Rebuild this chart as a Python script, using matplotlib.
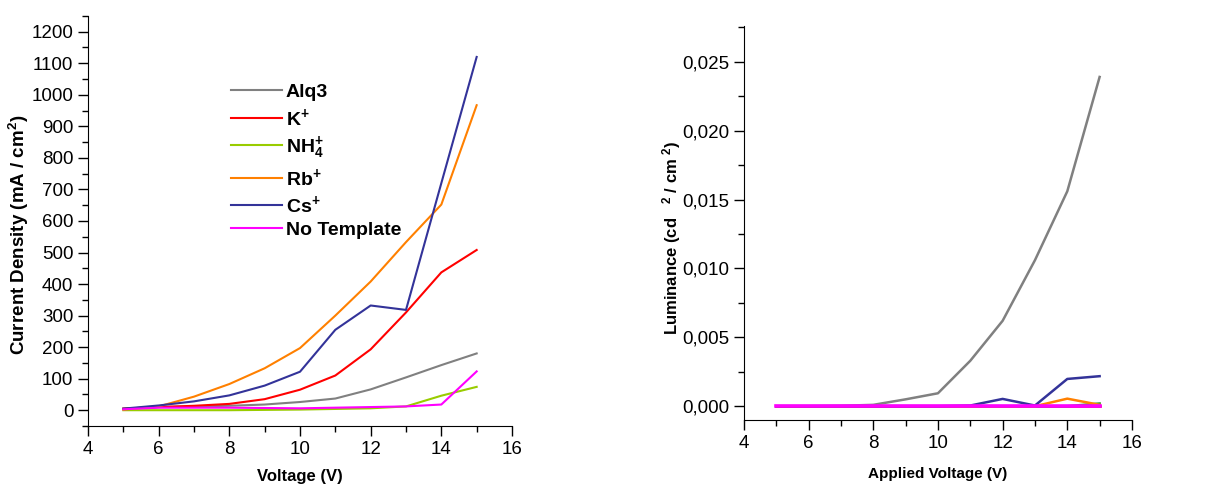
import numpy as np
import matplotlib.pyplot as plt
from matplotlib.ticker import MultipleLocator, FuncFormatter

plt.rcParams['font.family'] = ['Liberation Sans', 'DejaVu Sans']
plt.rcParams['mathtext.fontset'] = 'custom'
plt.rcParams['mathtext.rm'] = 'Liberation Sans'
plt.rcParams['mathtext.bf'] = 'Liberation Sans:bold'

# voltage steps
volt = [5, 6, 7, 8, 9, 10, 11, 12, 13, 14, 15]

# current density (mA/cm2)
j_alq3 = [5, 10, 12, 14, 18, 26, 37, 66, 104, 143, 180]
j_k = [5, 10, 14, 20, 35, 65, 110, 193, 310, 437, 508]
j_nh4 = [0, 0, 0, 0, 1, 2, 4, 6, 12, 46, 74]
j_rb = [2, 12, 43, 83, 133, 197, 300, 408, 533, 652, 967]
j_cs = [5, 15, 28, 47, 78, 122, 255, 332, 318, 720, 1120]
j_none = [3, 8, 8, 8, 7, 6, 8, 10, 12, 18, 123]

# luminance, right panel
l_alq3 = [0, 0, 0.00003, 0.0001, 0.0005, 0.00094, 0.0033, 0.0062, 0.0106, 0.0156, 0.0239]
l_k = [0, 0, 0, 0, 0, 0, 0, 0, 0, 0, 0]
l_nh4 = [0, 0, 0, 0, 0, 0, 0, 0, 0, 0, 0.0002]
l_rb = [0, 0, 0, 0, 0, 0, 0, 0, 0, 0.00055, 0.0001]
l_cs = [0, 0, 0, 0, 0, 0, 0.00005, 0.00053, 0.00005, 0.00198, 0.00218]
l_none = [0, 0, 0, 0, 0, 0, 0, 0, 0, 0, 0]

labels = ['Alq3', r'$\mathbf{K^{+}}$', r'$\mathbf{NH_4^{+}}$', r'$\mathbf{Rb^{+}}$',
          r'$\mathbf{Cs^{+}}$', 'No Template']
colors = ['#808080', '#ff0000', '#99cc00', '#ff8000', '#333399', '#ff00ff']

fig = plt.figure(figsize=(12.24, 4.94), dpi=100)
ax1 = fig.add_axes([0.0719, 0.1377, 0.3464, 0.830])
ax2 = fig.add_axes([0.6078, 0.1498, 0.317, 0.7976])

for ys, lab, c in zip([j_alq3, j_k, j_nh4, j_rb, j_cs, j_none], labels, colors):
    ax1.plot(volt, ys, color=c, lw=1.5, label=lab)

lcols = ['#808080', '#ff0000', '#339933', '#ff8000', '#333399', '#ff00ff']
for ys, c, w in zip([l_alq3, l_k, l_nh4, l_rb, l_cs, l_none], lcols, [1.8, 1.8, 1.8, 1.8, 1.8, 2.6]):
    ax2.plot(volt, ys, color=c, lw=w)

for ax in (ax1, ax2):
    ax.spines['top'].set_visible(False)
    ax.spines['right'].set_visible(False)
    ax.set_xlim(4, 16)
    ax.xaxis.set_major_locator(MultipleLocator(2))
    ax.xaxis.set_minor_locator(MultipleLocator(1))
    ax.tick_params(which='major', direction='out', length=7, width=1, labelsize=13.5)
    ax.tick_params(which='minor', direction='out', length=4, width=1)

ax1.set_ylim(-50, 1250)
ax1.yaxis.set_major_locator(MultipleLocator(100))
ax1.yaxis.set_minor_locator(MultipleLocator(50))

ax2.set_ylim(-0.001, 0.0276)
ax2.yaxis.set_major_locator(MultipleLocator(0.005))
ax2.yaxis.set_minor_locator(MultipleLocator(0.0025))
ax2.yaxis.set_major_formatter(FuncFormatter(lambda v, p: ('%.3f' % v).replace('.', ',')))

ax1.set_xlabel('Voltage (V)', fontsize=12, fontweight='bold')
ax1.xaxis.set_label_coords(0.5, -0.105)
ax1.set_ylabel('Current Density (mA / cm$\\mathbf{^2}$)', fontsize=13.5, fontweight='bold')
ax1.yaxis.set_label_coords(-0.135, 0.466)
leg = ax1.legend(loc='upper left', bbox_to_anchor=(0.338, 0.835), frameon=False,
                 borderpad=0, borderaxespad=0, handlelength=2.6, handletextpad=0.2,
                 labelspacing=0.28, prop={'weight': 'bold', 'size': 14})

ax2.set_xlabel('Applied Voltage (V)', fontsize=11, fontweight='bold')
ax2.xaxis.set_label_coords(0.5, -0.12)
ax2.set_ylabel('Luminance (cd   $\\mathbf{^2}$ / cm $\\mathbf{^2}$)', fontsize=12, fontweight='bold')
ax2.yaxis.set_label_coords(-0.158, 0.462)

fig.savefig('out.png', dpi=100)
